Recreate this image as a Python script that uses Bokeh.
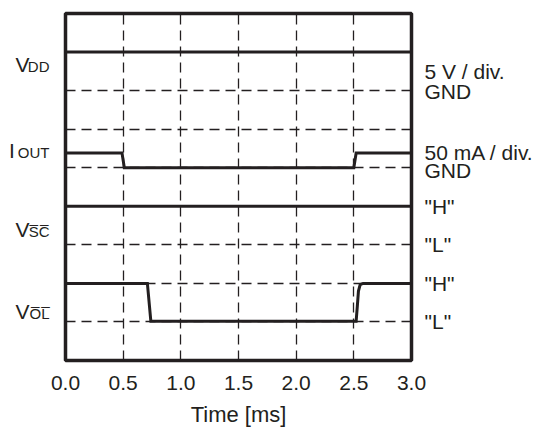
from bokeh.plotting import figure
from bokeh.models import FixedTicker, NumeralTickFormatter, Range1d, LinearAxis
from bokeh.embed import file_html
from bokeh.resources import INLINE

# ---- data (time in ms, levels in divisions from bottom) ----
vdd_t = [0.0, 3.0]
vdd_y = [8.0, 8.0]

iout_t = [0.0, 0.49, 0.51, 2.50, 2.52, 3.0]
iout_y = [5.38, 5.38, 5.0, 5.0, 5.38, 5.38]

vsc_t = [0.0, 3.0]
vsc_y = [4.0, 4.0]

vol_t = [0.0, 0.71, 0.74, 2.52, 2.53, 2.54, 2.555, 2.58, 3.0]
vol_y = [2.0, 2.0, 1.02, 1.02, 1.4, 1.8, 1.97, 2.0, 2.0]

x_ticks = [0.0, 0.5, 1.0, 1.5, 2.0, 2.5, 3.0]
x_grid = [0.5, 1.0, 1.5, 2.0, 2.5]
y_grid = [1, 2, 3, 5, 6, 7]

# left signal names: main letter, subscript, level of the name
left_main = ["V", "I\u2002\u2009", "V", "V"]
left_sub = ["DD", "OUT", "S\u0305C\u0305", "O\u0305L\u0305"]
left_levels = [7.68, 5.44, 3.40, 1.26]
sub_levels = [7.63, 5.39, 3.35, 1.21]

# right scale / level names
right_text = ["5 V / div.", "GND", "50 mA / div.", "GND", '"H"', '"L"', '"H"', '"L"']
right_levels = [7.49, 6.98, 5.39, 4.92, 4.0, 3.0, 2.0, 1.0]

INK = "#231f20"
FONT = "Liberation Sans"

p = figure(width=552, height=430, output_backend="svg", toolbar_location=None,
           x_range=Range1d(0, 3), y_range=Range1d(0, 9), y_axis_location=None,
           min_border_left=65, min_border_right=141, min_border_top=13, min_border_bottom=70)

p.outline_line_color = INK
p.outline_line_width = 3.5
p.background_fill_color = "white"
p.border_fill_color = "white"

p.xaxis.ticker = FixedTicker(ticks=x_ticks)
p.xaxis.formatter = NumeralTickFormatter(format="0.0")
p.xaxis.axis_line_color = None
p.xaxis.major_tick_line_color = None
p.xaxis.minor_tick_line_color = None
p.xaxis.major_tick_out = 0
p.xaxis.major_tick_in = 0
p.xaxis.major_label_standoff = 15
p.xaxis.major_label_text_font = FONT
p.xaxis.major_label_text_font_size = "21px"
p.xaxis.major_label_text_color = INK
p.xaxis.axis_label = "Time [ms]"
p.xaxis.axis_label_text_font = FONT
p.xaxis.axis_label_text_font_size = "22px"
p.xaxis.axis_label_text_font_style = "normal"
p.xaxis.axis_label_text_color = INK
p.xaxis.axis_label_standoff = 9

p.xgrid.ticker = FixedTicker(ticks=x_grid)
p.ygrid.ticker = FixedTicker(ticks=y_grid)
for g in (p.xgrid, p.ygrid):
    g.grid_line_color = INK
    g.grid_line_width = 1.3
    g.grid_line_dash = "10 6"
    g.grid_line_alpha = 1.0

for t, y in ((vdd_t, vdd_y), (iout_t, iout_y), (vsc_t, vsc_y), (vol_t, vol_y)):
    p.line(t, y, line_color=INK, line_width=3, line_join="miter")


def text_axis(ticks, labels, size, standoff):
    ax = LinearAxis(ticker=FixedTicker(ticks=ticks),
                    major_label_overrides={k: v for k, v in zip(ticks, labels)})
    ax.axis_line_color = None
    ax.major_tick_line_color = None
    ax.minor_tick_line_color = None
    ax.major_tick_out = 0
    ax.major_tick_in = 0
    ax.major_label_standoff = standoff
    ax.major_label_text_font = FONT
    ax.major_label_text_font_size = size
    ax.major_label_text_color = INK
    return ax


p.add_layout(text_axis(sub_levels, left_sub, "15px", 16), "left")
p.add_layout(text_axis(left_levels, left_main, "21px", -15), "left")
p.add_layout(text_axis(right_levels, right_text, "21px", 13), "right")

open("out.html", "w").write(file_html(p, INLINE))
